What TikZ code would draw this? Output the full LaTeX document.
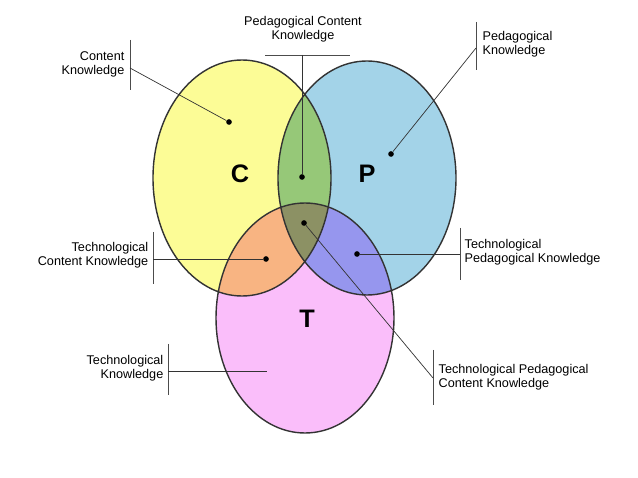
\documentclass[tikz,border=0pt]{standalone}
\usepackage{fontspec}
\setmainfont{Liberation Sans}
\definecolor{cyel}{RGB}{252,252,150}
\definecolor{pblu}{RGB}{163,211,232}
\definecolor{tpnk}{RGB}{250,190,250}
\definecolor{cpgr}{RGB}{150,200,120}
\definecolor{ctor}{RGB}{248,180,130}
\definecolor{ptbl}{RGB}{150,150,238}
\definecolor{allg}{RGB}{140,145,100}
\tikzset{
  lbl/.style={font=\fontsize{9}{10}\selectfont, align=#1, inner sep=1pt},
  dot/.style={circle, fill=black, inner sep=0pt, minimum size=4pt},
  bar/.style={draw=black!70, line width=0.4pt},
  lead/.style={draw=black!80, line width=0.5pt},
  big/.style={font=\fontsize{18}{18}\selectfont\bfseries}
}
\begin{document}
\begin{tikzpicture}[x=0.025cm,y=-0.025cm]
  \useasboundingbox (0,0) rectangle (638,478);
  \def\setC{(242,178) ellipse [x radius=89,y radius=118]}
  \def\setP{(367,178) ellipse [x radius=89,y radius=117]}
  \def\setT{(305,318) ellipse [x radius=89,y radius=115]}
  \fill[cyel] \setC;
  \fill[pblu] \setP;
  \fill[tpnk] \setT;
  \begin{scope} \clip \setC; \fill[cpgr] \setP; \end{scope}
  \begin{scope} \clip \setC; \fill[ctor] \setT; \end{scope}
  \begin{scope} \clip \setP; \fill[ptbl] \setT; \end{scope}
  \begin{scope} \clip \setC; \clip \setP; \fill[allg] \setT; \end{scope}
  \draw[black!80, line width=1pt] \setC \setP \setT;
  % set letters
  \node[big] (lc) at (240,174) {C};
  \node[big] (lp) at (367,174) {P};
  \node[big] (lt) at (307,319) {T};
  % dots
  \node[dot] (dc) at (229,122) {};
  \node[dot] (dpc) at (302,177) {};
  \node[dot] (dp) at (391,154) {};
  \node[dot] (dtc) at (266,259) {};
  \node[dot] (dtp) at (357,254) {};
  \node[dot] (dtpc) at (304,223) {};
  \coordinate (dt) at (267,371);
  % labels with bars
  \node[lbl=right, anchor=east] (ck) at (126,64) {Content\\Knowledge};
  \draw[bar] (130,40) -- (130,90);
  \coordinate (bck) at (130,68);
  \node[lbl=center] (pck) at (303,29) {Pedagogical Content\\Knowledge};
  \draw[bar] (265,55) -- (350,55);
  \coordinate (bpck) at (302,55);
  \node[lbl=left, anchor=west] (pk) at (481,44) {Pedagogical\\Knowledge};
  \draw[bar] (476,22) -- (476,70);
  \coordinate (bpk) at (476,48);
  \node[lbl=right, anchor=east] (tck) at (150,255) {Technological\\Content Knowledge};
  \draw[bar] (153,232) -- (153,284);
  \coordinate (btck) at (153,259);
  \node[lbl=left, anchor=west] (tpk) at (463,252) {Technological\\Pedagogical Knowledge};
  \draw[bar] (460,228) -- (460,280);
  \coordinate (btpk) at (460,254);
  \node[lbl=right, anchor=east] (tk) at (165,368) {Technological\\Knowledge};
  \draw[bar] (168,344) -- (168,395);
  \coordinate (btk) at (168,371);
  \node[lbl=left, anchor=west] (tpck) at (437,377) {Technological Pedagogical\\Content Knowledge};
  \draw[bar] (433,350) -- (433,405);
  \coordinate (btpck) at (433,378);
  % leaders
  \draw[lead] (bck) -- (dc);
  \draw[lead] (bpck) -- (dpc);
  \draw[lead] (bpk) -- (dp);
  \draw[lead] (btck) -- (dtc);
  \draw[lead] (btpk) -- (dtp);
  \draw[lead] (btk) -- (dt);
  \draw[lead] (btpck) -- (dtpc);
\end{tikzpicture}
\end{document}
